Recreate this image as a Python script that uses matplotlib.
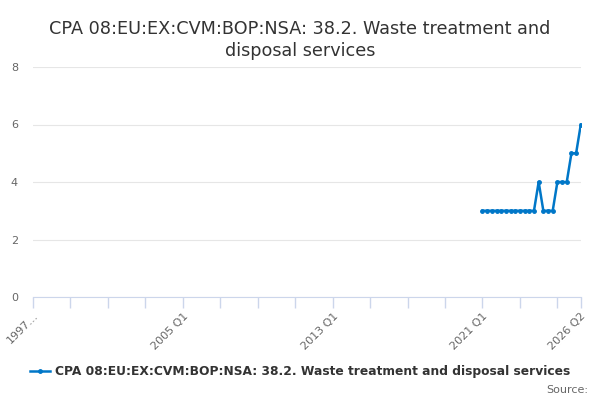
import numpy as np
import matplotlib.pyplot as plt

# quarterly categories 1997 Q1 .. 2026 Q2
quarters = []
for yr in range(1997, 2027):
    for q in range(1, 5):
        if yr == 2026 and q > 2:
            break
        quarters.append(f"{yr} Q{q}")

# values only exist from 2021 Q1 onwards
start_label = "2021 Q1"
values = [3, 3, 3, 3, 3, 3, 3, 3, 3, 3, 3, 3,
          4, 3, 3, 3, 4, 4, 4, 5, 5, 6]

label_ticks = ["1997 Q1", "2005 Q1", "2013 Q1", "2021 Q1", "2026 Q2"]
label_text = ["1997…", "2005 Q1", "2013 Q1", "2021 Q1", "2026 Q2"]

series_name = "CPA 08:EU:EX:CVM:BOP:NSA: 38.2. Waste treatment and disposal services"
title = "CPA 08:EU:EX:CVM:BOP:NSA: 38.2. Waste treatment and\ndisposal services"

blue = "#0077c8"

fig = plt.figure(figsize=(6, 4), dpi=100)
ax = fig.add_axes([0.055, 0.2575, 0.913, 0.575])

x0 = quarters.index(start_label)
xs = np.arange(x0, x0 + len(values))
ax.plot(xs, values, color=blue, lw=1.8, marker="o", ms=2.5, label=series_name)

ax.set_xlim(0, len(quarters) - 1)
ax.set_ylim(0, 8)
ax.set_yticks([0, 2, 4, 6, 8])
ax.grid(axis="y", color="#e6e6e6", lw=0.8)
ax.set_axisbelow(True)

for s in ["top", "right", "left"]:
    ax.spines[s].set_visible(False)
ax.spines["bottom"].set_color("#ccd6eb")

# tick marks every 2 years, labels at chosen points
minor = list(range(0, len(quarters), 8)) + [len(quarters) - 1]
ax.set_xticks(minor, minor=True)
ax.tick_params(axis="x", which="minor", length=8, color="#ccd6eb", width=1)
ax.set_xticks([quarters.index(t) for t in label_ticks])
ax.set_xticklabels(label_text, rotation=45, ha="right", rotation_mode="anchor",
                   fontsize=8, color="#666666")
ax.tick_params(axis="x", which="major", length=8, color="#ccd6eb", width=1, pad=2)
ax.tick_params(axis="y", length=0, labelsize=8, labelcolor="#666666")
for lab in ax.get_yticklabels():
    lab.set_horizontalalignment("left")
ax.yaxis.set_tick_params(pad=16)

fig.text(0.5, 0.95, title, ha="center", va="top", fontsize=12.7, color="#333333",
         linespacing=1.25)

fig.legend(loc="center", bbox_to_anchor=(0.5, 0.07), frameon=False,
           prop={"weight": "bold", "size": 8.8}, handlelength=1.6,
           handletextpad=0.4, labelcolor="#333333")
fig.text(0.98, 0.025, "Source:", ha="right", va="center", fontsize=8, color="#666666")

fig.savefig("out.png", dpi=100)
